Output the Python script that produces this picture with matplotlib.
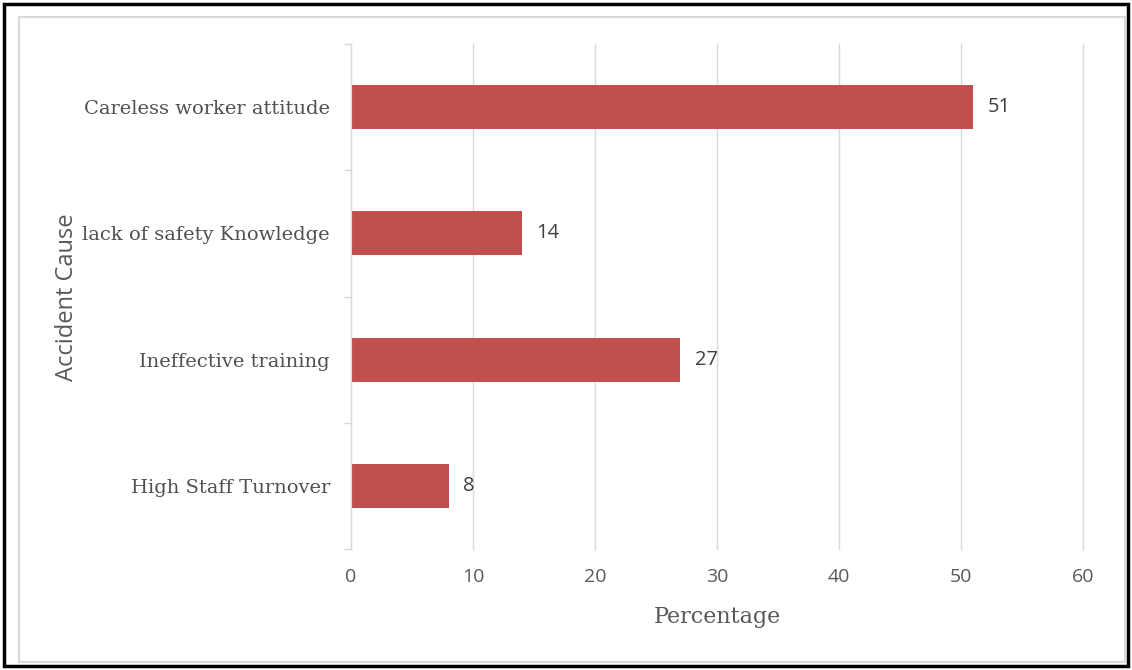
import matplotlib.pyplot as plt
from matplotlib.patches import Rectangle

causes = ["High Staff Turnover", "Ineffective training",
          "lack of safety Knowledge", "Careless worker attitude"]
percent = [8, 27, 14, 51]
xticks = [0, 10, 20, 30, 40, 50, 60]

bar_color = "#C0504D"
text_grey = "#595959"
grid_grey = "#D9D9D9"
serif = ["DejaVu Serif"]
sans = ["Open Sans", "DejaVu Sans"]

fig = plt.figure(figsize=(11.32, 6.70), dpi=100)
ax = fig.add_axes([0.310, 0.1806, 0.6467, 0.7537])

ypos = list(range(len(causes)))
ax.barh(ypos, percent, height=0.35, color=bar_color, zorder=3)

for y, v in zip(ypos, percent):
    ax.text(v + 1.2, y, str(v), va="center", ha="left", fontsize=14.5,
            color="#404040", family=sans)

ax.set_xlim(0, 60)
ax.set_ylim(-0.5, len(causes) - 0.5)
ax.set_xticks(xticks)
ax.set_xticklabels([str(t) for t in xticks], family=sans, fontsize=14,
                   color=text_grey)
ax.set_yticks(ypos)
ax.set_yticklabels(causes, family=serif, fontsize=14, color="#505050")

# category separators as short ticks on the left of the axis
ax.set_yticks([y + 0.5 for y in range(-1, len(causes))], minor=True)
ax.tick_params(axis="y", which="major", length=0, pad=15)
ax.tick_params(axis="y", which="minor", length=5, color=grid_grey, width=1)
ax.tick_params(axis="x", length=0, pad=14)

ax.grid(axis="x", color=grid_grey, linewidth=1, zorder=0)
for gl in ax.get_xgridlines():
    gl.set_clip_on(False)
for side in ["top", "right", "bottom"]:
    ax.spines[side].set_visible(False)
ax.spines["left"].set_color(grid_grey)
ax.spines["left"].set_zorder(4)

ax.set_xlabel("Percentage", family=serif, fontsize=16, color=text_grey,
              labelpad=14)
fig.text(0.059, 0.557, "Accident Cause", rotation=90, ha="center",
         va="center", family=sans, fontsize=17, color=text_grey)

# chart area and outer frame
fig.patches.append(Rectangle((19 / 1132, 8 / 670), 1106 / 1132, 645 / 670,
                             transform=fig.transFigure, fill=False,
                             edgecolor=grid_grey, linewidth=1.5))
fig.patches.append(Rectangle((4 / 1132, 4 / 670), 1124 / 1132, 662 / 670,
                             transform=fig.transFigure, fill=False,
                             edgecolor="black", linewidth=2.5))

fig.savefig("out.png", dpi=100)
